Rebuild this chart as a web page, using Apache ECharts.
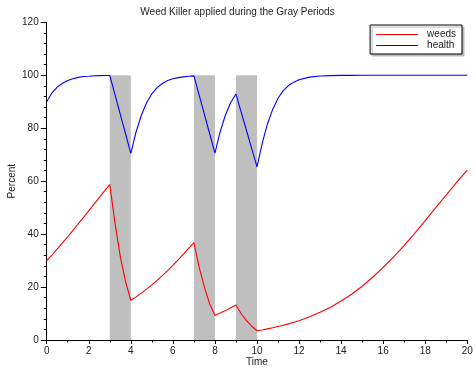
<!DOCTYPE html>
<html>
<head>
<meta charset="utf-8">
<script src="https://cdn.jsdelivr.net/npm/echarts@6/dist/echarts.min.js"></script>
<style>
html,body{margin:0;padding:0;background:#fff;}
#chart{width:475px;height:368px;}
</style>
</head>
<body>
<div id="chart"></div>
<script>
const titleText = 'Weed Killer applied during the Gray Periods';
const seriesNames = ['weeds', 'health'];
const time = [0,0.25,0.5,0.75,1,1.25,1.5,1.75,2,2.25,2.5,2.75,3,3.25,3.5,3.75,4,4.25,4.5,4.75,5,5.25,5.5,5.75,6,6.25,6.5,6.75,7,7.25,7.5,7.75,8,8.25,8.5,8.75,9,9.25,9.5,9.75,10,10.25,10.5,10.75,11,11.25,11.5,11.75,12,12.5,13,13.5,14,14.5,15,15.5,16,16.5,17,17.5,18,18.5,19,19.5,20];
const weeds = [30,32.1,34.4,36.7,39.0,41.4,43.9,46.3,48.8,51.3,53.8,56.3,58.7,44.0,31.5,22.0,15.0,16.3,17.7,19.2,20.8,22.5,24.3,26.2,28.2,30.3,32.4,34.6,36.8,27.4,20.0,13.6,9.3,10.2,11.1,12.2,13.2,9.9,7.3,5.2,3.5,3.8,4.2,4.6,5.1,5.6,6.1,6.7,7.3,8.8,10.5,12.4,14.7,17.3,20.3,23.7,27.4,31.4,35.7,40.3,45.1,50.0,54.8,59.6,64.2];
const health = [90,93.3,95.5,97.0,98.0,98.7,99.2,99.5,99.6,99.8,99.85,99.9,99.9,92.6,85.2,77.9,70.5,78.6,84.9,89.6,93.0,95.3,96.9,98.0,98.7,99.1,99.4,99.6,99.75,92.5,85.2,77.9,70.6,78.7,85.0,89.7,92.9,86.0,79.2,72.3,65.4,74.4,81.7,87.2,91.3,94.2,96.1,97.4,98.3,99.3,99.7,99.85,99.94,99.97,99.99,100,100,100,100,100,100,100,100,100,100];
const sprayPeriods = [[3,4],[7,8],[9,10]];
const sprayLevel = 100;
const xTicks = {min: 0, max: 20, interval: 2};
const yTicks = {min: 0, max: 120, interval: 20};

const pair = (ys) => time.map((t, i) => [t, ys[i]]);
const txt = '#222';
const font = 'Liberation Sans, Arial, sans-serif';

const chart = echarts.init(document.getElementById('chart'), null, {renderer: 'canvas'});
chart.setOption({
  animation: false,
  backgroundColor: '#fff',
  title: {
    text: titleText, left: 'center', top: 2,
    textStyle: {fontSize: 10, fontWeight: 'normal', color: txt, fontFamily: font}
  },
  legend: {
    data: seriesNames,
    orient: 'vertical', right: 13, top: 25,
    icon: 'rect', itemWidth: 42, itemHeight: 1, itemGap: 0,
    padding: [4, 6, 3, 6],
    borderColor: '#000', borderWidth: 1, backgroundColor: '#fff',
    shadowColor: '#bbb', shadowOffsetX: 2, shadowOffsetY: 2, shadowBlur: 0,
    textStyle: {fontSize: 10, color: txt, fontFamily: font, lineHeight: 11, padding: [0,0,0,4]}
  },
  grid: {left: 46.7, right: 7.7, top: 22.3, bottom: 28, containLabel: false, outerBoundsMode: 'none'},
  xAxis: {
    type: 'value', min: xTicks.min, max: xTicks.max, interval: xTicks.interval,
    name: 'Time', nameLocation: 'middle', nameGap: 17, nameMoveOverlap: false,
    nameTextStyle: {fontSize: 10, color: txt, fontFamily: font},
    axisLine: {lineStyle: {color: '#000', width: 1}},
    axisTick: {show: true, length: 4, lineStyle: {color: '#000'}},
    minorTick: {show: true, splitNumber: 2, length: 2.5, lineStyle: {color: '#000'}},
    axisLabel: {fontSize: 10, color: txt, fontFamily: font, margin: 6},
    splitLine: {show: false}
  },
  yAxis: {
    type: 'value', min: yTicks.min, max: yTicks.max, interval: yTicks.interval,
    name: 'Percent', nameLocation: 'middle', nameGap: 29, nameRotate: 90, nameMoveOverlap: false,
    nameTextStyle: {fontSize: 10, color: txt, fontFamily: font},
    axisLine: {show: true, lineStyle: {color: '#000', width: 1}},
    axisTick: {show: true, length: 6, lineStyle: {color: '#000'}},
    minorTick: {show: true, splitNumber: 5, length: 3, lineStyle: {color: '#000'}},
    axisLabel: {fontSize: 10, color: txt, fontFamily: font, margin: 8},
    splitLine: {show: false}
  },
  series: [
    {
      name: 'spray', type: 'line', data: [], z: 1, silent: true,
      markArea: {
        silent: true,
        itemStyle: {color: '#bfbfbf', opacity: 1},
        data: sprayPeriods.map(p => [{xAxis: p[0], yAxis: 0}, {xAxis: p[1], yAxis: sprayLevel}])
      }
    },
    {
      name: seriesNames[0], type: 'line', data: pair(weeds), z: 3,
      showSymbol: false, symbol: 'none', color: '#ff0000',
      lineStyle: {color: '#ff0000', width: 1.1}
    },
    {
      name: seriesNames[1], type: 'line', data: pair(health), z: 3,
      showSymbol: false, symbol: 'none', color: '#0000ff',
      lineStyle: {color: '#0000ff', width: 1.1}
    }
  ]
});
</script>
</body>
</html>
